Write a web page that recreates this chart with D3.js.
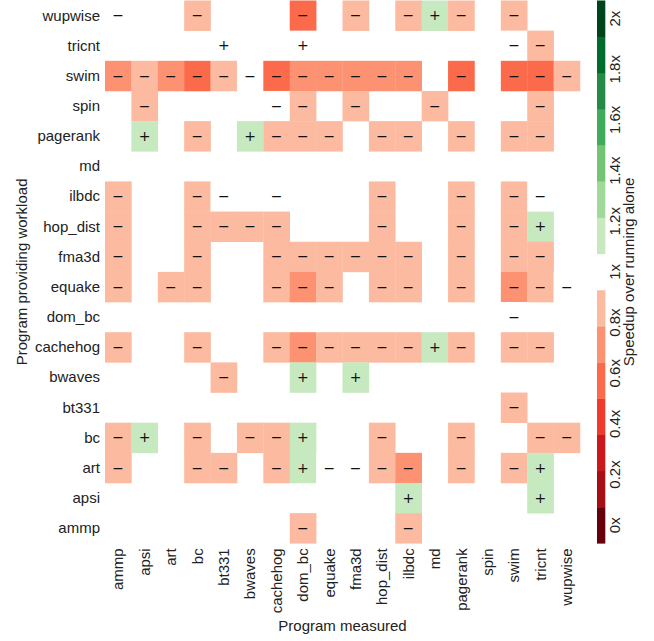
<!DOCTYPE html>
<html>
<head>
<meta charset="utf-8">
<script src="https://cdn.jsdelivr.net/npm/d3@7"></script>
<style>
    body { margin: 0; background: #ffffff; }
    text { font-family: "Liberation Sans", Arial, sans-serif; fill: #222222; }
    .sign { font-family: "DejaVu Sans", sans-serif; fill: #111111; }
</style>
</head>
<body>
<svg id="chart" width="654" height="641"></svg>
<script>

// programs on the x axis (measured)
var programsMeasured = ["ammp", "apsi", "art", "bc", "bt331", "bwaves", "cachehog",
    "dom_bc", "equake", "fma3d", "hop_dist", "ilbdc", "md", "pagerank", "spin",
    "swim", "tricnt", "wupwise"];

// programs on the y axis (providing workload), top to bottom
var programsWorkload = ["wupwise", "tricnt", "swim", "spin", "pagerank", "md", "ilbdc",
    "hop_dist", "fma3d", "equake", "dom_bc", "cachehog", "bwaves", "bt331", "bc",
    "art", "apsi", "ammp"];

// speedup over running alone, one row per workload program (null = no marker)
var speedup = [
    [0.97, null, null, 0.86, null, null, null, 0.58, null, 0.86, null, 0.86, 1.14, 0.86, null, 0.86, null, null], // wupwise
    [null, null, null, null, 1.03, null, null, 1.03, null, null, null, null, null, null, null, 0.97, 0.86, null], // tricnt
    [0.72, 0.86, 0.72, 0.58, 0.86, 0.97, 0.58, 0.72, 0.72, 0.72, 0.72, 0.72, null, 0.58, null, 0.58, 0.58, 0.86], // swim
    [null, 0.86, null, null, null, null, 0.97, 0.86, null, 0.86, null, null, 0.86, null, null, null, 0.86, null], // spin
    [null, 1.14, null, 0.86, null, 1.14, 0.86, 0.86, 0.86, null, 0.86, 0.86, null, 0.86, null, 0.86, 0.86, null], // pagerank
    [null, null, null, null, null, null, null, null, null, null, null, null, null, null, null, null, null, null], // md
    [0.86, null, null, 0.86, 0.97, null, 0.97, null, null, null, 0.86, null, null, 0.86, null, 0.86, 0.97, null], // ilbdc
    [0.86, null, null, 0.86, 0.86, 0.86, 0.86, null, null, null, 0.86, null, null, 0.86, null, 0.86, 1.14, null], // hop_dist
    [0.86, null, null, 0.86, null, null, 0.86, 0.86, 0.86, 0.86, 0.86, 0.86, null, 0.86, null, 0.86, 0.86, null], // fma3d
    [0.86, null, 0.86, 0.86, null, null, 0.86, 0.72, 0.86, null, 0.86, 0.86, null, 0.86, null, 0.72, 0.86, 0.97], // equake
    [null, null, null, null, null, null, null, null, null, null, null, null, null, null, null, 0.97, null, null], // dom_bc
    [0.86, null, null, 0.86, null, null, 0.86, 0.72, 0.86, 0.86, 0.86, 0.86, 1.14, 0.86, null, 0.86, 0.86, null], // cachehog
    [null, null, null, null, 0.86, null, null, 1.14, null, 1.14, null, null, null, null, null, null, null, null], // bwaves
    [null, null, null, null, null, null, null, null, null, null, null, null, null, null, null, 0.86, null, null], // bt331
    [0.86, 1.14, null, 0.86, null, 0.86, 0.86, 1.14, null, null, 0.86, null, null, 0.86, null, null, 0.86, 0.86], // bc
    [0.86, null, null, 0.86, 0.86, null, 0.86, 1.14, 0.97, 0.97, 0.86, 0.72, null, 0.86, null, 0.86, 1.14, null], // art
    [null, null, null, null, null, null, null, null, null, null, null, 1.14, null, null, null, null, 1.14, null], // apsi
    [null, null, null, null, null, null, null, 0.86, null, null, null, 0.86, null, null, null, null, null, null]  // ammp
];

// colorbar ticks
var speedupTicks = [0, 0.2, 0.4, 0.6, 0.8, 1, 1.2, 1.4, 1.6, 1.8, 2];

// discrete colours from 0x (dark red) to 2x (dark green)
var binColors = ["#67000d", "#a50f15", "#cb181d", "#ef3b2c", "#fb6a4a", "#fc9272", "#fcbba1",
    "#ffffff", "#c7e9c0", "#a1d99b", "#74c476", "#41ab5d", "#238b45", "#006d2c", "#00441b"];

var svg = d3.select("#chart");

// grid layout (note: "top" is reserved in the browser, so use own names)
var gridLeft = 105, gridRight = 580, gridTop = 0.5, gridBottom = 543.3;

var x = d3.scaleBand().domain(programsMeasured).range([gridLeft, gridRight]);
var y = d3.scaleBand().domain(programsWorkload).range([gridTop, gridBottom]);

// half a bin either side so 0x and 2x sit in the middle of the end bins
var half = 1 / 14;
var color = d3.scaleQuantize().domain([-half, 2 + half]).range(binColors);

// flatten the matrix into cells
var cells = [];
programsWorkload.forEach(function(row, i) {
    programsMeasured.forEach(function(col, j) {
        cells.push({ row: row, col: col, value: speedup[i][j] });
    });
});
var marked = cells.filter(function(d) { return d.value !== null; });

// draw the heatmap cells
svg.append("g").selectAll("rect")
    .data(marked)
    .enter().append("rect")
    .attr("x", function(d) { return x(d.col); })
    .attr("y", function(d) { return y(d.row); })
    .attr("width", x.bandwidth() + 0.3)
    .attr("height", y.bandwidth() + 0.3)
    .attr("fill", function(d) { return color(d.value); });

// minus or plus marker in each cell
svg.append("g").selectAll("text")
    .data(marked)
    .enter().append("text")
    .attr("class", "sign")
    .attr("x", function(d) { return x(d.col) + x.bandwidth() / 2; })
    .attr("y", function(d) { return y(d.row) + y.bandwidth() / 2; })
    .attr("dy", "0.33em")
    .attr("text-anchor", "middle")
    .style("font-size", "14px")
    .text(function(d) { return d.value < 1 ? "\u2212" : "+"; });

// row labels
svg.append("g").selectAll("text")
    .data(programsWorkload)
    .enter().append("text")
    .attr("x", gridLeft - 5)
    .attr("y", function(d) { return y(d) + y.bandwidth() / 2; })
    .attr("dy", "0.33em")
    .attr("text-anchor", "end")
    .style("font-size", "15px")
    .text(function(d) { return d; });

// column labels, rotated
svg.append("g").selectAll("text")
    .data(programsMeasured)
    .enter().append("text")
    .attr("transform", function(d) {
        return "translate(" + (x(d) + x.bandwidth() / 2) + "," + (gridBottom + 5) + ") rotate(-90)";
    })
    .attr("dy", "0.35em")
    .attr("text-anchor", "end")
    .style("font-size", "15px")
    .text(function(d) { return d; });

// axis titles
svg.append("text")
    .attr("x", (gridLeft + gridRight) / 2)
    .attr("y", 631)
    .attr("text-anchor", "middle")
    .style("font-size", "15px")
    .text("Program measured");

svg.append("text")
    .attr("transform", "translate(27," + ((gridTop + gridBottom) / 2) + ") rotate(-90)")
    .attr("text-anchor", "middle")
    .style("font-size", "15px")
    .text("Program providing workload");

// colorbar
var barX = 597, barW = 8.3;
var cy = d3.scaleLinear().domain([-half, 2 + half]).range([gridBottom, gridTop]);
var binEdges = d3.range(binColors.length).map(function(i) { return -half + i * 2 * half; });

svg.append("g").selectAll("rect")
    .data(binEdges)
    .enter().append("rect")
    .attr("x", barX)
    .attr("y", function(d) { return cy(d + 2 * half); })
    .attr("width", barW)
    .attr("height", function(d) { return cy(d) - cy(d + 2 * half) + 0.3; })
    .attr("fill", function(d) { return color(d + half); });

svg.append("g").selectAll("text")
    .data(speedupTicks)
    .enter().append("text")
    .attr("transform", function(d) { return "translate(620," + cy(d) + ") rotate(-90)"; })
    .attr("text-anchor", "middle")
    .style("font-size", "15px")
    .text(function(d) { return d + "x"; });

svg.append("text")
    .attr("transform", "translate(634," + ((gridTop + gridBottom) / 2) + ") rotate(-90)")
    .attr("text-anchor", "middle")
    .style("font-size", "15px")
    .text("Speedup over running alone");

</script>
</body>
</html>
